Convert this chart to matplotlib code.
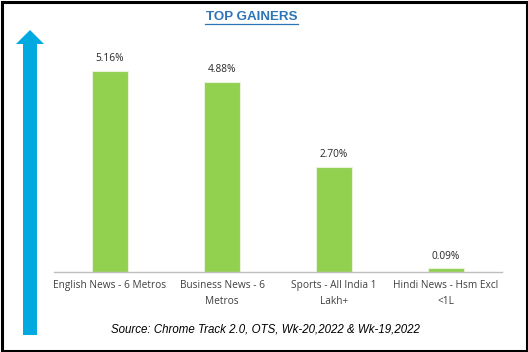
import matplotlib.pyplot as plt
from matplotlib.patches import FancyArrow, Rectangle

# Top gainers, week 20 vs week 19
categories = ["English News - 6 Metros", "Business News - 6\nMetros",
              "Sports - All India 1\nLakh+", "Hindi News - Hsm Excl\n<1L"]
gains = [5.16, 4.88, 2.70, 0.09]
labels = ["5.16%", "4.88%", "2.70%", "0.09%"]

plt.rcParams['font.family'] = ['Open Sans', 'DejaVu Sans']

fig = plt.figure(figsize=(5.28, 3.52), dpi=100)
ax = fig.add_axes([54 / 528, 80 / 352, 448 / 528, 234 / 352])

x = range(len(categories))
bars = ax.bar(x, gains, width=0.33, color="#92D050", edgecolor="#E8F3DA", linewidth=0.8)
for b, lab in zip(bars, labels):
    ax.text(b.get_x() + b.get_width() / 2, b.get_height() + 0.17, lab,
            ha="center", va="bottom", fontsize=7.3, color="#262626")

ax.set_xlim(-0.5, 3.5)
ax.set_ylim(0, 6)
ax.set_xticks(list(x))
ax.set_xticklabels(categories, fontsize=7.3, color="#404040", linespacing=1.55)
ax.tick_params(axis="x", length=0, pad=6)
ax.set_yticks([])
for s in ["top", "right", "left"]:
    ax.spines[s].set_visible(False)
ax.spines["bottom"].set_color("#BFBFBF")
ax.spines["bottom"].set_linewidth(1)

fig.text(252 / 528, 1 - 17 / 352, "TOP GAINERS", ha="center", va="center",
         fontsize=9.6, fontweight="bold", color="#2E75B6", family="Liberation Sans")
# underline
fig.add_artist(plt.Line2D([205 / 528, 298 / 528], [1 - 23.5 / 352, 1 - 23.5 / 352],
                          color="#2E75B6", linewidth=0.9))

fig.text(265 / 528, 1 - 330 / 352, "Source: Chrome Track 2.0, OTS, Wk-20,2022 & Wk-19,2022",
         ha="center", va="center", fontsize=8.3, style="italic", color="#000000",
         family="Liberation Sans")

# blue arrow on the left and black border
ov = fig.add_axes([0, 0, 1, 1], zorder=-1)
ov.set_xlim(0, 528)
ov.set_ylim(352, 0)
ov.axis("off")
ov.add_patch(FancyArrow(30, 335, 0, -305, width=14, head_width=28, head_length=14,
                        length_includes_head=True, color="#00A9E0", linewidth=0))
ov.add_patch(Rectangle((1.5, 1.5), 525, 349, fill=False, edgecolor="black", linewidth=2.2))

plt.savefig("out.png", dpi=100)
